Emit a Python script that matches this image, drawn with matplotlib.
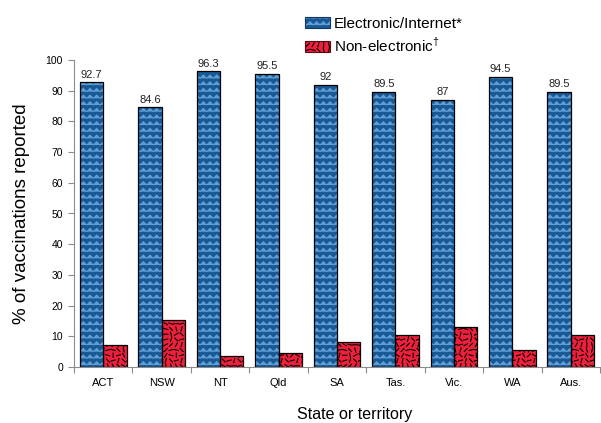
import warnings
import numpy as np
import matplotlib
matplotlib.use("Agg")
import matplotlib.pyplot as plt
import matplotlib.hatch as mhatch
from matplotlib.path import Path
from matplotlib.patches import Patch
from matplotlib.legend_handler import HandlerTuple

warnings.filterwarnings("ignore")

states = ["ACT", "NSW", "NT", "Qld", "SA", "Tas.", "Vic.", "WA", "Aus."]
electronic = [92.7, 84.6, 96.3, 95.5, 92.0, 89.5, 87.0, 94.5, 89.5]
electronic_lbl = ["92.7", "84.6", "96.3", "95.5", "92", "89.5", "87", "94.5", "89.5"]
non_electronic = [7.3, 15.4, 3.7, 4.5, 8.0, 10.5, 13.0, 5.5, 10.5]

BLUE, LBLUE = "#1a5894", "#5d9fd6"
RED = "#f0203c"


# custom hatches: 'z' = zigzag rows, 'd' = scattered short dashes
class ZigZagHatch(mhatch.HatchPatternBase):
    def __init__(self, hatch, density):
        self.rows = int(hatch.count("z") * density * 1.25)
        self.pts = self.rows * 2 + 1
        self.num_vertices = self.rows * self.pts

    def set_vertices_and_codes(self, vertices, codes):
        if self.rows == 0:
            return
        dy = 1.0 / self.rows
        xs = np.linspace(0, 1, self.pts)
        off = np.where(np.arange(self.pts) % 2 == 0, -0.25, 0.25) * dy
        for k in range(self.rows):
            s = slice(k * self.pts, (k + 1) * self.pts)
            vertices[s, 0] = xs
            vertices[s, 1] = (k + 0.5) * dy + off
            codes[s] = Path.LINETO
            codes[k * self.pts] = Path.MOVETO


class DashHatch(mhatch.HatchPatternBase):
    def __init__(self, hatch, density):
        self.n = int(hatch.count("d") * density * 1.1)
        self.num_vertices = self.n * self.n * 2

    def set_vertices_and_codes(self, vertices, codes):
        n = self.n
        if n == 0:
            return
        c = 1.0 / n
        i = 0
        for a in range(n):
            for b in range(n):
                ang = np.deg2rad(((a * 7 + b * 11 + a * b * 3) % 12) * 15)
                cx, cy = (a + 0.5) * c, (b + 0.5) * c
                h = 0.4 * c
                vertices[i] = (cx - h * np.cos(ang), cy - h * np.sin(ang))
                vertices[i + 1] = (cx + h * np.cos(ang), cy + h * np.sin(ang))
                codes[i] = Path.MOVETO
                codes[i + 1] = Path.LINETO
                i += 2


mhatch._hatch_types.extend([ZigZagHatch, DashHatch])

plt.rcParams["font.family"] = ["Liberation Sans", "DejaVu Sans"]
plt.rcParams["mathtext.fontset"] = "custom"
plt.rcParams["mathtext.rm"] = "Liberation Sans"

fig = plt.figure(figsize=(6.01, 4.23), dpi=100)
ax = fig.add_axes([74 / 601, 1 - 367 / 423, 526 / 601, 307 / 423])

x = np.arange(len(states))
w = 0.4
plt.rcParams["hatch.linewidth"] = 0.7
ax.bar(x - w / 2, electronic, w, color=BLUE, edgecolor=LBLUE, hatch="zz", linewidth=0)
h_el = Patch(facecolor=BLUE, edgecolor=LBLUE, hatch="zz", linewidth=0)
plt.rcParams["hatch.linewidth"] = 0.8
ax.bar(x + w / 2, non_electronic, w, color=RED, edgecolor="black", hatch="ddd", linewidth=0)
h_ne = Patch(facecolor=RED, edgecolor="black", hatch="ddd", linewidth=0)
b1 = ax.bar(x - w / 2, electronic, w, fill=False, edgecolor="black", linewidth=0.9)
ax.bar(x + w / 2, non_electronic, w, fill=False, edgecolor="black", linewidth=0.9)
ax.bar_label(b1, labels=electronic_lbl, padding=2, fontsize=8, color="#222222")

ax.set_xlim(-0.5, len(states) - 0.5)
ax.set_ylim(0, 100)
ax.set_yticks(np.arange(0, 101, 10))
ax.set_xticks(np.arange(len(states) + 1) - 0.5)
ax.set_xticklabels([])
ax.set_xticks(x, minor=True)
ax.set_xticklabels(states, minor=True, fontsize=8)
ax.tick_params(axis="x", which="minor", length=0, pad=8)
ax.tick_params(axis="x", which="major", length=4, color="#8c8c8c")
ax.tick_params(axis="y", length=4, color="#8c8c8c", labelsize=7.5, pad=4)
for s in ["top", "right"]:
    ax.spines[s].set_visible(False)
for s in ["left", "bottom"]:
    ax.spines[s].set_color("#8c8c8c")

ax.set_ylabel("% of vaccinations reported", fontsize=13.5, labelpad=11)
fig.text(355 / 601, 1 - 414 / 423, "State or territory", fontsize=11.5,
         ha="center", va="center")

h_el = (h_el, Patch(fill=False, edgecolor="#103860", linewidth=0.8))
h_ne = (h_ne, Patch(fill=False, edgecolor="#5a0a14", linewidth=0.8))
fig.legend([h_el, h_ne], ["Electronic/Internet*", r"Non-electronic$^{\dagger}$"],
           handler_map={tuple: HandlerTuple(ndivide=1)},
           loc="upper left", bbox_to_anchor=(294 / 601, 1 - 6 / 423),
           frameon=False, fontsize=11, handlelength=1.65, handleheight=0.75,
           handletextpad=0.25, labelspacing=0.35, borderpad=0.2)

fig.savefig("out.png", dpi=100)
